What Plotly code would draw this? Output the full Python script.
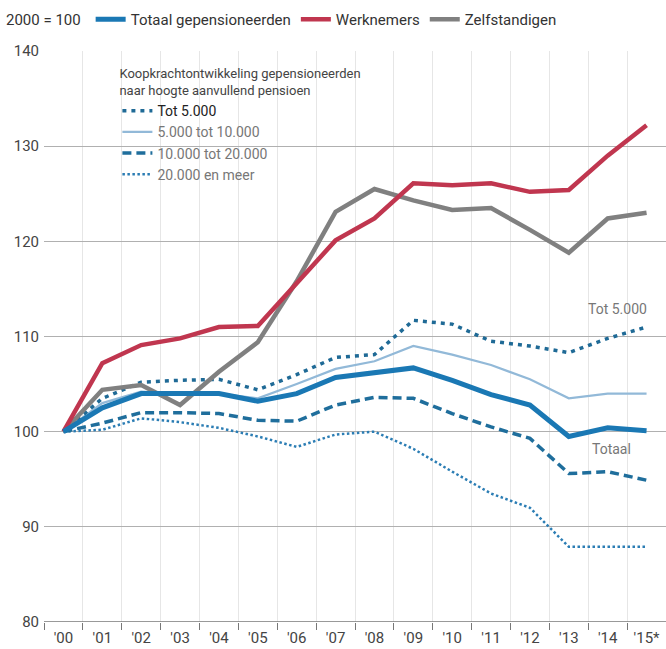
import plotly.graph_objects as go

years = list(range(16))
year_labels = ["'00", "'01", "'02", "'03", "'04", "'05", "'06", "'07", "'08", "'09",
               "'10", "'11", "'12", "'13", "'14", "'15*"]

werknemers = [100, 107.2, 109.1, 109.8, 111.0, 111.1, 115.6, 120.1, 122.4, 126.1,
              125.9, 126.1, 125.2, 125.4, 129.0, 132.2]
zelfstandigen = [100, 104.4, 104.9, 102.8, 106.3, 109.4, 115.8, 123.1, 125.5, 124.3,
                 123.3, 123.5, 121.2, 118.8, 122.4, 123.0]
totaal = [100, 102.5, 104.0, 104.0, 104.0, 103.2, 104.0, 105.7, 106.2, 106.7,
          105.4, 103.9, 102.8, 99.5, 100.4, 100.1]
tot5000 = [100, 103.5, 105.2, 105.4, 105.5, 104.4, 106.0, 107.8, 108.1, 111.7,
           111.3, 109.5, 109.0, 108.3, 109.8, 111.0]
t5_10 = [100, 103.0, 104.2, 104.0, 104.0, 103.5, 105.0, 106.6, 107.4, 109.0,
         108.1, 107.0, 105.5, 103.5, 104.0, 104.0]
t10_20 = [100, 100.9, 102.0, 102.0, 101.9, 101.2, 101.1, 102.8, 103.6, 103.5,
          101.9, 100.5, 99.3, 95.6, 95.8, 94.9]
t20plus = [100, 100.2, 101.4, 101.0, 100.4, 99.5, 98.4, 99.7, 100.0, 98.2,
           95.8, 93.5, 92.0, 87.9, 87.9, 87.9]

y_ticks = [80, 90, 100, 110, 120, 130, 140]
half_years = [y - 0.5 for y in range(17)]

FONT = "Roboto, Arial, sans-serif"

fig = go.Figure()

# inner legend series (legend2)
fig.add_trace(go.Scatter(x=years, y=t20plus, mode="lines", name="20.000 en meer",
                         line=dict(color="#2b7db4", width=2.5, dash="2.5px,2.5px"),
                         legend="legend2", legendrank=4))
fig.add_trace(go.Scatter(x=years, y=t10_20, mode="lines", name="10.000 tot 20.000",
                         line=dict(color="#1f6e9c", width=3.5, dash="9px,5px"),
                         legend="legend2", legendrank=3))
fig.add_trace(go.Scatter(x=years, y=t5_10, mode="lines", name="5.000 tot 10.000",
                         line=dict(color="#92b9d8", width=2.2),
                         legend="legend2", legendrank=2))
fig.add_trace(go.Scatter(x=years, y=tot5000, mode="lines",
                         name="<span style='color:#222'>Tot 5.000</span>",
                         line=dict(color="#1f6a96", width=3.5, dash="4px,5px"),
                         legend="legend2", legendrank=1))

# main series (top legend)
fig.add_trace(go.Scatter(x=years, y=zelfstandigen, mode="lines", name="Zelfstandigen",
                         line=dict(color="#808080", width=4.5), legendrank=3))
fig.add_trace(go.Scatter(x=years, y=werknemers, mode="lines", name="Werknemers",
                         line=dict(color="#c0364f", width=4.5), legendrank=2))
fig.add_trace(go.Scatter(x=years, y=totaal, mode="lines", name="Totaal gepensioneerden",
                         line=dict(color="#1a78b4", width=5), legendrank=1))

fig.add_annotation(x=15, y=tot5000[15], text="Tot 5.000", showarrow=False,
                   xanchor="right", yanchor="bottom", yshift=8, xshift=2,
                   font=dict(family=FONT, size=14, color="#777"))
fig.add_annotation(x=15, y=totaal[15], text="Totaal", showarrow=False,
                   xanchor="right", yanchor="top", yshift=-8, xshift=-14,
                   font=dict(family=FONT, size=14, color="#777"))
fig.add_annotation(xref="paper", yref="paper", x=-0.064, y=1.055, text="2000 = 100",
                   showarrow=False, xanchor="left", yanchor="middle",
                   font=dict(family=FONT, size=15, color="#333"))

fig.update_layout(
    width=666, height=649,
    margin=dict(l=44, r=0, t=51, b=27),
    paper_bgcolor="white", plot_bgcolor="white",
    font=dict(family=FONT, size=14, color="#444"),
    showlegend=True,
    legend=dict(orientation="h", x=0.075, y=1.055, xanchor="left", yanchor="middle",
                font=dict(family=FONT, size=15, color="#333"),
                itemwidth=30, tracegroupgap=0, bgcolor="rgba(0,0,0,0)"),
    legend2=dict(x=0.118, y=0.982, xanchor="left", yanchor="top",
                 title=dict(text="Koopkrachtontwikkeling gepensioneerden<br>naar hoogte aanvullend pensioen",
                            font=dict(family=FONT, size=13, color="#444")),
                 font=dict(family=FONT, size=14, color="#777"),
                 tracegroupgap=0, bgcolor="rgba(0,0,0,0)", itemwidth=30),
    xaxis=dict(range=[-0.5, 15.5], tickvals=years, ticktext=year_labels,
               showgrid=False, zeroline=False, ticks="", showline=False,
               ticklabelstandoff=5,
               tickfont=dict(family=FONT, size=15, color="#444"),
               minor=dict(tickvals=half_years, showgrid=True, gridcolor="#e6e6e6",
                          gridwidth=1, ticks="outside", ticklen=7, tickcolor="#777")),
    yaxis=dict(range=[80, 140], tickvals=y_ticks, showgrid=True, gridcolor="#b0b0b0",
               gridwidth=1, zeroline=False, showline=False, ticks="",
               ticklabelstandoff=4,
               tickfont=dict(family=FONT, size=15, color="#444")),
)
fig.add_hline(y=80, line=dict(color="#777", width=1.5))

fig.write_html("out.html", config={"displayModeBar": False},
               post_script="document.body.style.margin='0px';document.body.style.overflow='hidden';")
